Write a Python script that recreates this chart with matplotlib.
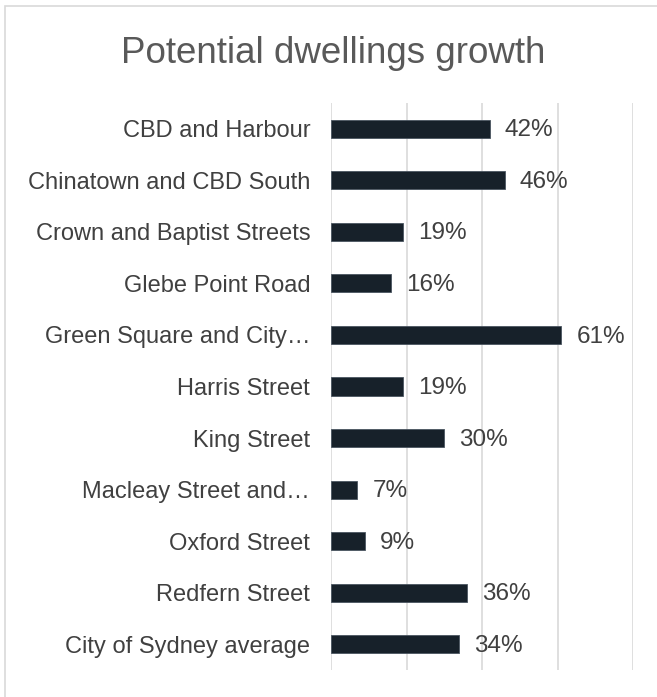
import matplotlib.pyplot as plt
import matplotlib.patches as patches
import numpy as np

# Potential dwellings growth by village
areas = ['CBD and Harbour', 'Chinatown and CBD South', 'Crown and Baptist Streets',
         'Glebe Point Road', 'Green Square and City\u2026', 'Harris Street', 'King Street',
         'Macleay Street and\u2026', 'Oxford Street', 'Redfern Street', 'City of Sydney average']
growth = [42, 46, 19, 16, 61, 19, 30, 7, 9, 36, 34]

plt.rcParams['font.family'] = ['Liberation Sans', 'DejaVu Sans']

W, H = 657, 697
fig = plt.figure(figsize=(W / 100, H / 100), dpi=100)

# light outer frame
fig.patches.append(patches.Rectangle((5 / W, -0.01), 1.0, 1 - 6 / H + 0.01,
                                     transform=fig.transFigure, fill=False,
                                     edgecolor='#d9d9d9', linewidth=1.2))

ax = fig.add_axes([331 / W, 1 - 670 / H, (633 - 331) / W, (670 - 103) / H])

y = np.arange(len(areas))
ax.barh(y, growth, height=0.35, color='#17212a', edgecolor='#4a5560', linewidth=0.6, zorder=3)

for yi, v in zip(y, growth):
    ax.text(v + 4.0, yi + 0.03, f'{v}%', va='center', ha='left', fontsize=17.5,
            color='#404040', zorder=4)

ax.set_xlim(0, 80)
ax.set_ylim(len(areas) - 0.5, -0.5)
ax.set_xticks(np.arange(0, 81, 20))
ax.set_xticklabels([])
ax.set_yticks(y)
ax.set_yticklabels(areas, fontsize=17, color='#404040')
ax.tick_params(axis='both', length=0)
ax.tick_params(axis='y', pad=15)
ax.grid(axis='x', color='#d9d9d9', linewidth=1.2, zorder=0)
for s in ax.spines.values():
    s.set_visible(False)

fig.text(333 / W, 1 - 63 / H, 'Potential dwellings growth', ha='center', va='baseline',
         fontsize=26.5, color='#595959')

fig.savefig('out.png', dpi=100)
